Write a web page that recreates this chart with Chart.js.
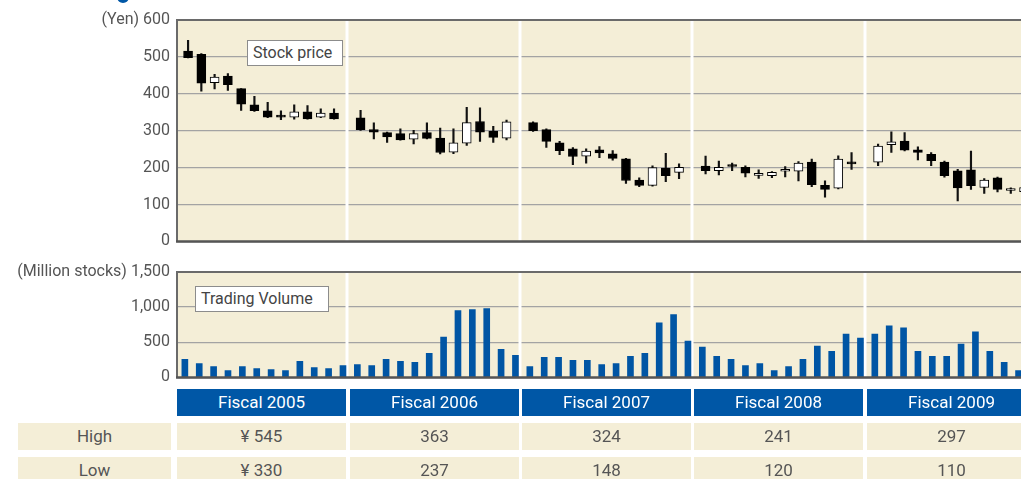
<!DOCTYPE html>
<html>
<head>
<meta charset="utf-8">
<script src="https://cdn.jsdelivr.net/npm/chart.js@4.4.1/dist/chart.umd.min.js"></script>
<style>
  html, body { margin: 0; padding: 0; background: #fff; overflow: hidden; }
  body { width: 1021px; height: 479px; position: relative; font-family: Roboto, "Liberation Sans", sans-serif; }
  canvas { position: absolute; left: 0; }
  #priceChart { top: 0; }
  #volumeChart { top: 252px; }
  .tag { position: absolute; background: #fff; border: 1px solid #8c8c8c; color: #444; font-size: 16px;
         line-height: 24px; height: 26px; padding: 0 5px; box-sizing: border-box; white-space: nowrap; }
  .cell { position: absolute; height: 27px; line-height: 27px; text-align: center; font-size: 17px; }
  .head { background: #0057a6; color: #fff; }
  .row { background: #f4eed7; color: #555; }
  .bullet { position: absolute; left: 117px; top: -9px; width: 12px; height: 12px; border-radius: 6px; background: #0057a6; }
</style>
</head>
<body>
<div class="bullet"></div>
<canvas id="priceChart" width="1021" height="258"></canvas>
<canvas id="volumeChart" width="1021" height="142"></canvas>
<div class="tag" style="left:247px; top:40px; width:96px;">Stock price</div>
<div class="tag" style="left:195px; top:286px; width:134px;">Trading Volume</div>
<div id="table"></div>

<script>
// ---- datos (mensuales, 5 ejercicios x 12 meses) ----
const fiscalYears = ['Fiscal 2005', 'Fiscal 2006', 'Fiscal 2007', 'Fiscal 2008', 'Fiscal 2009'];

const priceOpen = [
  516, 507, 430, 448, 414, 370, 354, 338, 337, 351, 337, 348,
  335, 303, 295, 292, 277, 295, 280, 242, 266, 325, 299, 280,
  322, 303, 267, 251, 231, 248, 237, 224, 166, 152, 199, 187,
  204, 192, 204, 201, 179, 178, 190, 190, 215, 152, 144, 211,
  215, 262, 272, 248, 236, 215, 191, 194, 146, 172, 138, 135
];
const priceHigh = [
  545, 509, 453, 455, 414, 393, 377, 354, 370, 368, 359, 359,
  355, 321, 296, 305, 301, 321, 307, 305, 363, 362, 312, 329,
  324, 305, 271, 254, 251, 257, 246, 225, 172, 205, 239, 210,
  231, 218, 212, 205, 194, 189, 203, 216, 223, 164, 232, 241,
  264, 297, 295, 256, 241, 218, 195, 245, 170, 174, 145, 150
];
const priceLow = [
  497, 407, 413, 409, 355, 352, 335, 330, 331, 331, 335, 331,
  301, 278, 268, 274, 264, 278, 237, 238, 260, 271, 268, 275,
  298, 255, 235, 208, 212, 227, 220, 157, 148, 150, 162, 170,
  183, 180, 192, 175, 171, 173, 175, 164, 148, 120, 142, 195,
  205, 241, 245, 221, 205, 174, 110, 141, 130, 134, 130, 130
];
const priceClose = [
  498, 429, 445, 425, 372, 354, 337, 337, 351, 332, 348, 332,
  303, 296, 283, 275, 292, 279, 241, 267, 322, 296, 282, 324,
  300, 271, 246, 230, 245, 240, 225, 165, 152, 200, 178, 201,
  192, 201, 203, 185, 179, 187, 190, 212, 154, 141, 223, 210,
  258, 270, 247, 241, 219, 178, 145, 151, 166, 141, 138, 146
];
// millones de acciones
const volume = [
  256, 198, 155, 97, 155, 126, 111, 97, 227, 140, 126, 169,
  184, 169, 256, 227, 213, 343, 575, 951, 966, 980, 401, 314,
  155, 285, 285, 242, 242, 184, 198, 300, 343, 778, 894, 517,
  430, 300, 256, 169, 198, 97, 155, 256, 444, 372, 618, 560,
  618, 734, 705, 372, 300, 300, 473, 647, 372, 213, 97, 120
];

const yearHigh = ['¥ 545', '363', '324', '241', '297'];
const yearLow = ['¥ 330', '237', '148', '120', '110'];

const priceTicks = [0, 100, 200, 300, 400, 500, 600];
const volumeTicks = [0, 500, 1000, 1500];

// ---- colores ----
const BEIGE = '#f4eed7';
const TEXT = '#555';
const FONT = { family: 'Roboto, "Liberation Sans", sans-serif', size: 16 };

// posicion en el eje: el precio deja un hueco por ejercicio, el volumen no
const xPrice = i => Math.floor(i / 12) * 13 + (i % 12) + 1;
const xVolume = i => Math.floor(i / 12) * 12 + (i % 12) + 0.7;

// Plugin para el fondo, separadores blancos y bordes del area
const plotFrame = {
    id: 'plotFrame',
    beforeDraw(chart) {
        const { ctx, chartArea: a } = chart;
        ctx.save();
        ctx.fillStyle = BEIGE;
        ctx.fillRect(a.left, a.top, a.right - a.left, a.bottom - a.top);
        ctx.restore();
    },
    beforeDatasetsDraw(chart, args, opts) {
        const { ctx, chartArea: a, scales } = chart;
        ctx.save();
        ctx.strokeStyle = '#fff';
        ctx.lineWidth = 3;
        opts.dividers.forEach(v => {
            const px = Math.round(scales.x.getPixelForValue(v));
            ctx.beginPath();
            ctx.moveTo(px, a.top);
            ctx.lineTo(px, a.bottom);
            ctx.stroke();
        });
        ctx.restore();
    },
    afterDatasetsDraw(chart) {
        const { ctx, chartArea: a } = chart;
        ctx.save();
        ctx.strokeStyle = '#6a6a6a';
        ctx.lineWidth = 2;
        ctx.beginPath();
        ctx.moveTo(a.right + 2, a.top);
        ctx.lineTo(a.left, a.top);
        ctx.lineTo(a.left, a.bottom);
        ctx.stroke();
        ctx.strokeStyle = '#555';
        ctx.lineWidth = 2.5;
        ctx.beginPath();
        ctx.moveTo(a.left - 1, a.bottom);
        ctx.lineTo(a.right + 2, a.bottom);
        ctx.stroke();
        ctx.restore();
    }
};

function xAxis(min, max) {
    return {
        type: 'linear',
        min: min,
        max: max,
        offset: false,
        grid: { display: false, drawTicks: false },
        border: { display: false },
        ticks: { display: false, padding: 0 }
    };
}

function yAxis(max, topLabel) {
    return {
        min: 0,
        max: max,
        afterBuildTicks: s => { s.ticks = (max === 600 ? priceTicks : volumeTicks).map(v => ({ value: v })); },
        afterFit: s => { s.width = 177; },
        grid: { color: '#a3a3a3', lineWidth: 1.3, drawTicks: false },
        border: { display: false },
        ticks: {
            color: TEXT,
            font: FONT,
            padding: 7,
            callback: v => v === max ? topLabel : v.toLocaleString('en-US')
        }
    };
}

const baseOptions = {
    responsive: false,
    animation: false,
    events: [],
    plugins: { legend: { display: false }, tooltip: { enabled: false } }
};

// --- Grafico de precios (velas) ---
new Chart(document.getElementById('priceChart'), {
    type: 'bar',
    data: {
        datasets: [
            {
                label: 'wick',
                order: 2,
                data: priceHigh.map((h, i) => ({ x: xPrice(i), y: [priceLow[i], h] })),
                backgroundColor: '#111',
                barThickness: 1.5,
                grouped: false
            },
            {
                label: 'body',
                order: 1,
                data: priceOpen.map((o, i) => ({ x: xPrice(i), y: [o, priceClose[i]] })),
                backgroundColor: priceOpen.map((o, i) => priceClose[i] < o ? '#000' : '#fff'),
                borderColor: '#000',
                borderWidth: 1,
                borderSkipped: false,
                minBarLength: 2,
                barThickness: 9,
                grouped: false
            }
        ]
    },
    options: {
        ...baseOptions,
        layout: { padding: { top: 20, bottom: 10, left: 0, right: 0 } },
        scales: {
            x: xAxis(0.166, 63.77),
            y: yAxis(600, '(Yen) 600')
        },
        plugins: { ...baseOptions.plugins, plotFrame: { dividers: [13, 26, 39, 52] } }
    },
    plugins: [plotFrame]
});

// --- Grafico de volumen ---
new Chart(document.getElementById('volumeChart'), {
    type: 'bar',
    data: {
        datasets: [{
            label: 'Trading Volume',
            data: volume.map((v, i) => ({ x: xVolume(i), y: v })),
            backgroundColor: '#0055a4',
            barThickness: 6,
            grouped: false
        }]
    },
    options: {
        ...baseOptions,
        layout: { padding: { top: 20, bottom: 10, left: 0, right: 0 } },
        scales: {
            x: xAxis(0.153, 58.87),
            y: yAxis(1500, '(Million stocks) 1,500')
        },
        plugins: { ...baseOptions.plugins, plotFrame: { dividers: [12, 24, 36, 48] } }
    },
    plugins: [plotFrame]
});

// --- Tabla de maximos / minimos ---
const colLeft = [177, 350, 522, 694, 867];
const table = document.getElementById('table');
function addCell(cls, left, top, width, text) {
    const d = document.createElement('div');
    d.className = 'cell ' + cls;
    d.style.left = left + 'px';
    d.style.top = top + 'px';
    d.style.width = width + 'px';
    d.textContent = text;
    table.appendChild(d);
}
fiscalYears.forEach((y, i) => addCell('head', colLeft[i], 389, 169, y));
addCell('row', 18, 423, 153, 'High');
addCell('row', 18, 457, 153, 'Low');
yearHigh.forEach((v, i) => addCell('row', colLeft[i], 423, 169, v));
yearLow.forEach((v, i) => addCell('row', colLeft[i], 457, 169, v));
</script>
</body>
</html>
